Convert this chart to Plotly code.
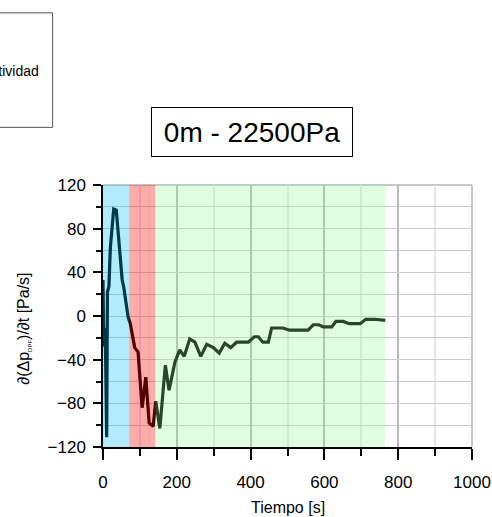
import plotly.graph_objects as go

# Pressure-drop derivative over time, 0 m altitude, 22500 Pa
tiempo = [0, 2, 6, 10, 12, 16, 20, 29, 36, 52, 56, 68, 74, 86, 95, 106, 116, 125,
          136, 143, 154, 169, 179, 195, 208, 220, 235, 249, 265, 281, 299, 315,
          330, 346, 362, 394, 410, 421, 433, 448, 457, 488, 505, 556, 570, 585,
          597, 620, 631, 651, 667, 697, 712, 737, 765]
derivada = [33, -28, -11, -111, 22, 27, 63, 98, 97, 33, 27, -1, -7, -29, -33, -84,
            -56, -98, -101, -78, -103, -45, -68, -42, -31, -37, -21, -24, -37, -26,
            -29, -34, -25, -29, -24, -24, -19, -19, -24, -24, -11, -11, -13, -13,
            -8, -8, -10, -10, -5, -5, -7, -7, -3, -3, -4]

# Phase intervals [s] and their overlay colours
fases_inicio = [0, 71, 142]
fases_fin = [71, 142, 765]
fases_color = ["rgba(0,192,245,0.30)", "rgba(255,0,0,0.33)", "rgba(143,255,143,0.28)"]

x_ticks = [0, 200, 400, 600, 800, 1000]
y_ticks = [-120, -80, -40, 0, 40, 80, 120]

FONT = "Liberation Sans, Arial, sans-serif"

fig = go.Figure()
fig.add_trace(go.Scatter(x=tiempo, y=derivada, mode="lines",
                         line=dict(color="#000000", width=3.2), showlegend=False))

for x0, x1, c in zip(fases_inicio, fases_fin, fases_color):
    fig.add_shape(type="rect", xref="x", yref="y", x0=x0, x1=x1, y0=-120, y1=120,
                  fillcolor=c, line=dict(width=0), layer="above")

# light frame on the top and right sides
fig.add_shape(type="line", xref="paper", yref="paper", x0=0, x1=1, y0=1, y1=1,
              line=dict(color="#b4b4b4", width=1.5), layer="below")
fig.add_shape(type="line", xref="paper", yref="paper", x0=1, x1=1, y0=0, y1=1,
              line=dict(color="#b4b4b4", width=1.5), layer="below")

# partially visible legend box at the top left
fig.add_shape(type="rect", xref="paper", yref="paper", x0=-0.6, x1=-0.1365,
              y0=1.22, y1=1.657, line=dict(color="#555555", width=1),
              fillcolor="white", layer="above")
fig.add_annotation(xref="paper", yref="paper", x=-0.167, y=1.436, text="Actividad",
                   showarrow=False, xanchor="right", yanchor="middle",
                   font=dict(family=FONT, size=14, color="black"))

# boxed title
fig.add_annotation(xref="paper", yref="paper", x=0.4036, y=1.2034,
                   text="0m - 22500Pa", showarrow=False, xanchor="center",
                   yanchor="middle", width=196, height=44, borderpad=2,
                   bordercolor="black", borderwidth=1, bgcolor="white",
                   font=dict(family=FONT, size=28, color="black"))

# axis titles
fig.add_annotation(xref="paper", yref="paper", x=-0.215, y=0.45,
                   text="∂(Δp<sub><span style='font-size:6px'>DPF</span></sub>)/∂t [Pa/s]",
                   showarrow=False, textangle=-90, xanchor="center", yanchor="middle",
                   font=dict(family=FONT, size=16, color="black"))
fig.add_annotation(xref="paper", yref="paper", x=0.5, y=-0.231, text="Tiempo [s]",
                   showarrow=False, xanchor="center", yanchor="middle",
                   font=dict(family=FONT, size=16, color="black"))

fig.update_xaxes(range=[0, 1000], tickvals=x_ticks, ticks="outside", ticklen=11,
                 tickwidth=1.5, tickcolor="black", showline=True, linecolor="black",
                 linewidth=1.5, showgrid=True, gridcolor="#b8b8b8", gridwidth=1.5,
                 zeroline=False, automargin=False, ticklabelstandoff=8,
                 tickfont=dict(family=FONT, size=17, color="black"),
                 minor=dict(dtick=100, ticks="outside", ticklen=7, tickwidth=1.5,
                            tickcolor="black", showgrid=True, gridcolor="#e6e6e6",
                            gridwidth=1.5))
fig.update_yaxes(range=[-120, 120], tickvals=y_ticks, ticks="outside", ticklen=8,
                 tickwidth=1.5, tickcolor="black", showline=True, linecolor="black",
                 linewidth=1.5, showgrid=True, gridcolor="#cccccc", gridwidth=1.2,
                 zeroline=False, automargin=False, ticklabelstandoff=4,
                 tickfont=dict(family=FONT, size=17, color="black"),
                 minor=dict(dtick=20, ticks="outside", ticklen=5, tickwidth=1.5,
                            tickcolor="black", showgrid=True, gridcolor="#cccccc",
                            gridwidth=1.2))

fig.update_layout(width=492, height=517, margin=dict(l=103, r=20, t=185, b=70),
                  plot_bgcolor="white", paper_bgcolor="white", showlegend=False,
                  font=dict(family=FONT))

fig.write_html("out.html")
